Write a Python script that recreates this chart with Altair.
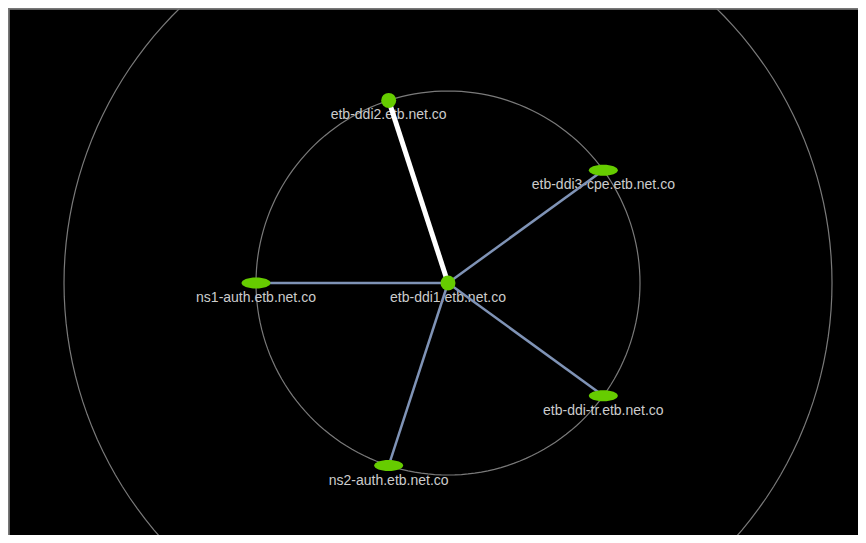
import altair as alt
import pandas as pd

# ---- data ----
node_names = [
    "etb-ddi1.etb.net.co",
    "etb-ddi2.etb.net.co",
    "etb-ddi3-cpe.etb.net.co",
    "ns1-auth.etb.net.co",
    "etb-ddi-tr.etb.net.co",
    "ns2-auth.etb.net.co",
]
node_level = [0, 1, 1, 1, 1, 1]          # ring index (0 = centre)
node_angle = [0, 108, 36, 180, -36, -108]  # degrees, counter-clockwise from east
node_kind = ["round", "round", "oval", "oval", "oval", "oval"]
edge_kind = ["none", "strong", "normal", "normal", "normal", "normal"]
ring_levels = [1, 2]

df = pd.DataFrame({
    "name": node_names,
    "level": node_level,
    "angle": node_angle,
    "kind": node_kind,
    "edge": edge_kind,
})

ELLIPSE = "M-1,0A1,0.38,0,1,1,1,0A1,0.38,0,1,1,-1,0Z"

W, H = 850, 527
xs = alt.Scale(domain=[-2.2917, 2.1354], nice=False, zero=False)
ys = alt.Scale(domain=[-1.3125, 1.4323], nice=False, zero=False)
X = alt.X("x:Q", scale=xs, axis=None)
Y = alt.Y("y:Q", scale=ys, axis=None)

base = alt.Chart(df).transform_calculate(
    x="datum.level*cos(datum.angle*PI/180)",
    y="datum.level*sin(datum.angle*PI/180)",
    cx="0",
    cy="0",
)

rings = [
    alt.Chart(alt.sequence(0, 361, 2, as_="deg"))
    .transform_calculate(
        x=f"{r}*cos(datum.deg*PI/180)",
        y=f"{r}*sin(datum.deg*PI/180)",
    )
    .mark_line(stroke="#7a7a7a", strokeWidth=1.2)
    .encode(x=X, y=Y, order="deg:Q")
    for r in ring_levels
]

labels = base.mark_text(
    dy=19, baseline="alphabetic", align="center", fontSize=14,
    font="Liberation Sans", color="#cccccc",
).encode(x=X, y=Y, text="name:N")

edges = base.transform_filter("datum.level > 0").mark_rule().encode(
    x=alt.X("cx:Q", scale=xs, axis=None),
    y=alt.Y("cy:Q", scale=ys, axis=None),
    x2="x:Q",
    y2="y:Q",
    color=alt.Color("edge:N", scale=alt.Scale(domain=["normal", "strong"],
                    range=["#7f93b6", "#ffffff"]), legend=None),
    strokeWidth=alt.StrokeWidth("edge:N", scale=alt.Scale(domain=["normal", "strong"],
                                range=[2.5, 5]), legend=None),
)

nodes = base.mark_point(filled=True, opacity=1, strokeWidth=0).encode(
    x=X,
    y=Y,
    shape=alt.Shape("kind:N", scale=alt.Scale(domain=["round", "oval"],
                    range=["circle", ELLIPSE]), legend=None),
    size=alt.Size("kind:O", scale=alt.Scale(domain=["round", "oval"],
                  range=[225, 841]), legend=None),
    color=alt.value("#66cc00"),
)

# top and left frame lines of the canvas
frame_top = alt.Chart(df).mark_rule(stroke="#777777", strokeWidth=1.5).encode(
    x=alt.value(0), x2=alt.value(W), y=alt.value(0.5))
frame_left = alt.Chart(df).mark_rule(stroke="#777777", strokeWidth=1.5).encode(
    x=alt.value(0.5), y=alt.value(0), y2=alt.value(H))

chart = alt.layer(*rings, labels, edges, nodes, frame_top, frame_left).properties(
    width=W, height=H, padding=0, autosize="none", background="black",
).configure_view(fill="black", strokeWidth=0)

chart.save("out.html", embed_options={"renderer": "svg", "actions": False})
